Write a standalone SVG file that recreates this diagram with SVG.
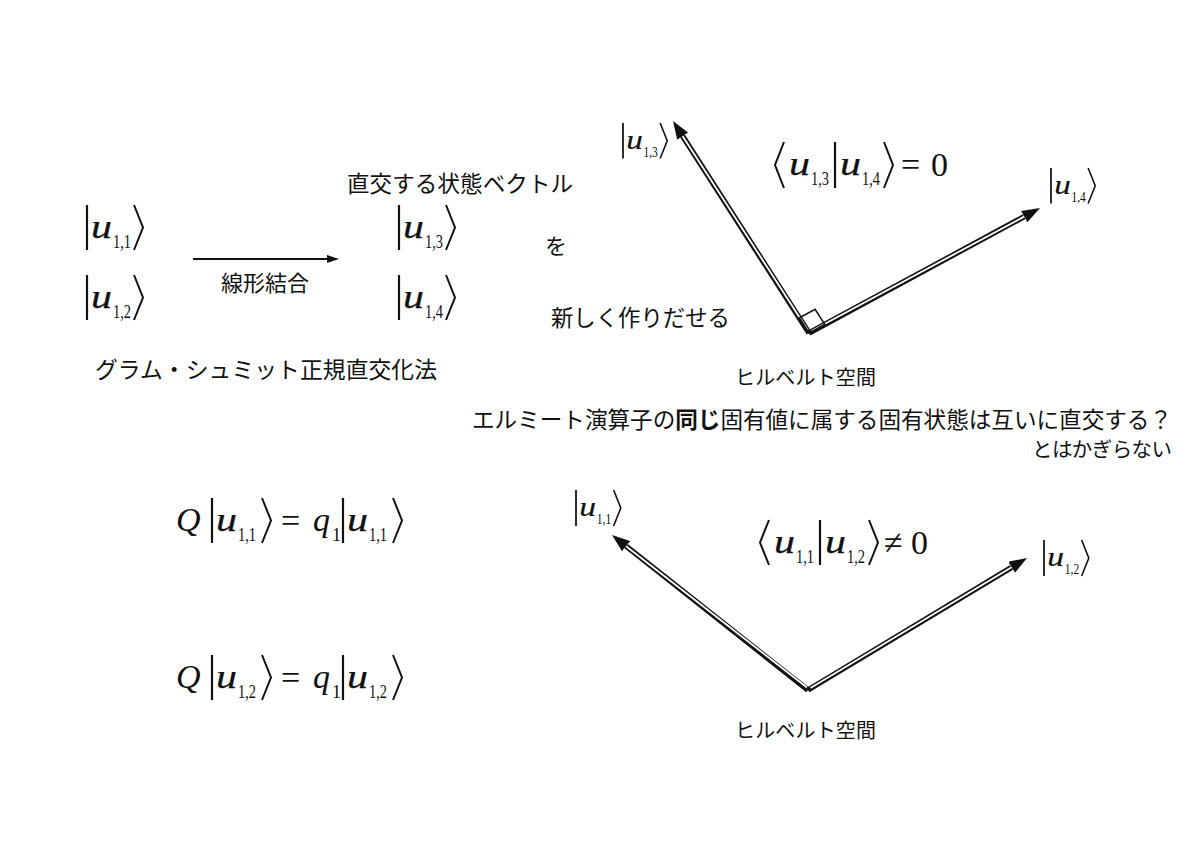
<svg xmlns="http://www.w3.org/2000/svg" width="1200" height="849" viewBox="0 0 1200 849">
<style>
.jp{font-family:"Noto Sans CJK JP","Noto Sans",sans-serif;fill:#111;}
.mi{font-family:"Liberation Serif",serif;font-style:italic;font-size:34px;fill:#111;}
.mu{font-family:"Liberation Serif",serif;font-style:italic;font-size:34px;fill:#111;stroke:#111;stroke-width:0.25;}
.mr{font-family:"Liberation Serif",serif;font-size:34px;fill:#111;}
.sb{font-family:"Liberation Serif",serif;font-size:18px;fill:#111;}
.dl{stroke:#111;stroke-width:2.2;fill:none;}
.br{stroke:#111;stroke-width:2;fill:none;stroke-linejoin:miter;}
.vo{stroke:#111;stroke-width:5.5;fill:none;}
.vi{stroke:#fff;stroke-width:1.8;fill:none;}
</style>
<defs>
<marker id="ah" viewBox="0 0 18 13" refX="0" refY="6.5" markerWidth="18" markerHeight="13" markerUnits="userSpaceOnUse" orient="auto"><path d="M0,0 L18,6.5 L0,13 z" fill="#111"/></marker>
<marker id="ah2" viewBox="0 0 12 8" refX="0" refY="4" markerWidth="12" markerHeight="8" markerUnits="userSpaceOnUse" orient="auto"><path d="M0,0 L12,4 L0,8 z" fill="#111"/></marker>
</defs>
<rect width="1200" height="849" fill="#fff"/>

<!-- kets left -->
<g id="ket-u11" transform="translate(87,205)">
<line class="dl" x1="0" y1="0" x2="0" y2="45"/><text class="mu" x="4" y="33" textLength="21" lengthAdjust="spacingAndGlyphs">u</text><text class="sb" x="26" y="43" textLength="18" lengthAdjust="spacingAndGlyphs">1,1</text><polyline class="br" points="47,0 56,22.5 47,45"/>
</g>
<g id="ket-u12" transform="translate(87,275)">
<line class="dl" x1="0" y1="0" x2="0" y2="45"/><text class="mu" x="4" y="33" textLength="21" lengthAdjust="spacingAndGlyphs">u</text><text class="sb" x="26" y="43" textLength="18" lengthAdjust="spacingAndGlyphs">1,2</text><polyline class="br" points="47,0 56,22.5 47,45"/>
</g>
<g id="ket-u13" transform="translate(399,205)">
<line class="dl" x1="0" y1="0" x2="0" y2="45"/><text class="mu" x="4" y="33" textLength="21" lengthAdjust="spacingAndGlyphs">u</text><text class="sb" x="26" y="43" textLength="18" lengthAdjust="spacingAndGlyphs">1,3</text><polyline class="br" points="47,0 56,22.5 47,45"/>
</g>
<g id="ket-u14" transform="translate(399,275)">
<line class="dl" x1="0" y1="0" x2="0" y2="45"/><text class="mu" x="4" y="33" textLength="21" lengthAdjust="spacingAndGlyphs">u</text><text class="sb" x="26" y="43" textLength="18" lengthAdjust="spacingAndGlyphs">1,4</text><polyline class="br" points="47,0 56,22.5 47,45"/>
</g>

<g id="labels-top">
<text class="jp" x="347" y="192" font-size="22.5" textLength="226" lengthAdjust="spacing">直交する状態ベクトル</text>
<text class="jp" x="545" y="254" font-size="22">を</text>
<text class="jp" x="551" y="326" font-size="22.4" textLength="179" lengthAdjust="spacing">新しく作りだせる</text>
<text class="jp" x="221" y="291" font-size="22" textLength="88" lengthAdjust="spacing">線形結合</text>
<text class="jp" x="95" y="378" font-size="22.8" textLength="342" lengthAdjust="spacing">グラム・シュミット正規直交化法</text>
<text class="jp" x="735" y="385" font-size="20" textLength="141" lengthAdjust="spacing">ヒルベルト空間</text>
<text class="jp" x="472" y="428" font-size="22.6" textLength="700" lengthAdjust="spacing">エルミート演算子の<tspan font-weight="bold">同じ</tspan>固有値に属する固有状態は互いに直交する？</text>
<text class="jp" x="1032" y="457" font-size="20.5" textLength="140" lengthAdjust="spacing">とはかぎらない</text>
<text class="jp" x="735" y="738" font-size="20" textLength="141" lengthAdjust="spacing">ヒルベルト空間</text>
</g>

<!-- small kets near vectors -->
<g id="sket-u13" transform="translate(623,123) scale(0.79)">
<line class="dl" x1="0" y1="0" x2="0" y2="45"/><text class="mu" x="4" y="33" textLength="21" lengthAdjust="spacingAndGlyphs">u</text><text class="sb" x="26" y="43" textLength="18" lengthAdjust="spacingAndGlyphs">1,3</text><polyline class="br" points="47,0 56,22.5 47,45"/>
</g>
<g id="sket-u14" transform="translate(1051,168) scale(0.79)">
<line class="dl" x1="0" y1="0" x2="0" y2="45"/><text class="mu" x="4" y="33" textLength="21" lengthAdjust="spacingAndGlyphs">u</text><text class="sb" x="26" y="43" textLength="18" lengthAdjust="spacingAndGlyphs">1,4</text><polyline class="br" points="47,0 56,22.5 47,45"/>
</g>
<g id="sket-u11b" transform="translate(576,490) scale(0.8)">
<line class="dl" x1="0" y1="0" x2="0" y2="45"/><text class="mu" x="4" y="33" textLength="21" lengthAdjust="spacingAndGlyphs">u</text><text class="sb" x="26" y="43" textLength="18" lengthAdjust="spacingAndGlyphs">1,1</text><polyline class="br" points="47,0 56,22.5 47,45"/>
</g>
<g id="sket-u12b" transform="translate(1044,540) scale(0.8)">
<line class="dl" x1="0" y1="0" x2="0" y2="45"/><text class="mu" x="4" y="33" textLength="21" lengthAdjust="spacingAndGlyphs">u</text><text class="sb" x="26" y="43" textLength="18" lengthAdjust="spacingAndGlyphs">1,2</text><polyline class="br" points="47,0 56,22.5 47,45"/>
</g>

<!-- inner products -->
<g id="eq-orth">
<polyline class="br" points="784,142 775,165 784,188"/>
<text class="mu" x="789" y="175" textLength="21" lengthAdjust="spacingAndGlyphs">u</text><text class="sb" x="811" y="185" textLength="18" lengthAdjust="spacingAndGlyphs">1,3</text>
<line class="dl" x1="835" y1="142" x2="835" y2="188"/>
<text class="mu" x="840" y="175" textLength="21" lengthAdjust="spacingAndGlyphs">u</text><text class="sb" x="862" y="185" textLength="18" lengthAdjust="spacingAndGlyphs">1,4</text>
<polyline class="br" points="884,142 893,165 884,188"/>
<text class="mr" x="901" y="176">=</text><text class="mr" x="931" y="176">0</text>
</g>
<g id="eq-nonorth">
<polyline class="br" points="769,520 760,542.5 769,565"/>
<text class="mu" x="774" y="553" textLength="21" lengthAdjust="spacingAndGlyphs">u</text><text class="sb" x="796" y="563" textLength="18" lengthAdjust="spacingAndGlyphs">1,1</text>
<line class="dl" x1="820" y1="520" x2="820" y2="565"/>
<text class="mu" x="825" y="553" textLength="21" lengthAdjust="spacingAndGlyphs">u</text><text class="sb" x="847" y="563" textLength="18" lengthAdjust="spacingAndGlyphs">1,2</text>
<polyline class="br" points="869,520 878,542.5 869,565"/>
<text class="mr" x="884" y="554">≠</text><text class="mr" x="911" y="554">0</text>
</g>

<!-- eigen equations -->
<g id="eq-eig1">
<text class="mi" x="176" y="531">Q</text>
<line class="dl" x1="212" y1="498" x2="212" y2="543"/>
<text class="mu" x="216" y="531" textLength="21" lengthAdjust="spacingAndGlyphs">u</text><text class="sb" x="238" y="541" textLength="18" lengthAdjust="spacingAndGlyphs">1,1</text>
<polyline class="br" points="262,498 271,520.5 262,543"/>
<text class="mr" x="281" y="532">=</text>
<text class="mi" x="313" y="531">q</text><text class="sb" x="332" y="541">1</text>
<line class="dl" x1="343" y1="498" x2="343" y2="543"/>
<text class="mu" x="347" y="531" textLength="21" lengthAdjust="spacingAndGlyphs">u</text><text class="sb" x="369" y="541" textLength="18" lengthAdjust="spacingAndGlyphs">1,1</text>
<polyline class="br" points="393,498 402,520.5 393,543"/>
</g>
<g id="eq-eig2" transform="translate(0,157)">
<text class="mi" x="176" y="531">Q</text>
<line class="dl" x1="212" y1="498" x2="212" y2="543"/>
<text class="mu" x="216" y="531" textLength="21" lengthAdjust="spacingAndGlyphs">u</text><text class="sb" x="238" y="541" textLength="18" lengthAdjust="spacingAndGlyphs">1,2</text>
<polyline class="br" points="262,498 271,520.5 262,543"/>
<text class="mr" x="281" y="532">=</text>
<text class="mi" x="313" y="531">q</text><text class="sb" x="332" y="541">1</text>
<line class="dl" x1="343" y1="498" x2="343" y2="543"/>
<text class="mu" x="347" y="531" textLength="21" lengthAdjust="spacingAndGlyphs">u</text><text class="sb" x="369" y="541" textLength="18" lengthAdjust="spacingAndGlyphs">1,2</text>
<polyline class="br" points="393,498 402,520.5 393,543"/>
</g>

<g id="connectors">
<line x1="193" y1="259" x2="327" y2="259" stroke="#111" stroke-width="2" marker-end="url(#ah2)"/>
<!-- top orthogonal vectors -->
<line class="vo" x1="809" y1="333" x2="682.7" y2="136.2" marker-end="url(#ah)"/>
<line class="vi" x1="808" y1="330.5" x2="682.7" y2="136.2"/>
<line class="vo" x1="809" y1="333" x2="1024.2" y2="216.6" marker-end="url(#ah)"/>
<line class="vi" x1="811.5" y1="331" x2="1024.2" y2="216.6"/>
<polygon points="809,333 799.3,317.8 815.1,309.3 824.8,324.4" fill="none" stroke="#111" stroke-width="1.6"/>
<!-- bottom vectors -->
<line class="vo" x1="808" y1="690" x2="626.1" y2="546.2" marker-end="url(#ah)"/>
<line class="vi" x1="807" y1="687.5" x2="626.1" y2="546.2"/>
<line class="vo" x1="808" y1="690" x2="1011.6" y2="567.3" marker-end="url(#ah)"/>
<line class="vi" x1="810.5" y1="688" x2="1011.6" y2="567.3"/>
</g>
</svg>
